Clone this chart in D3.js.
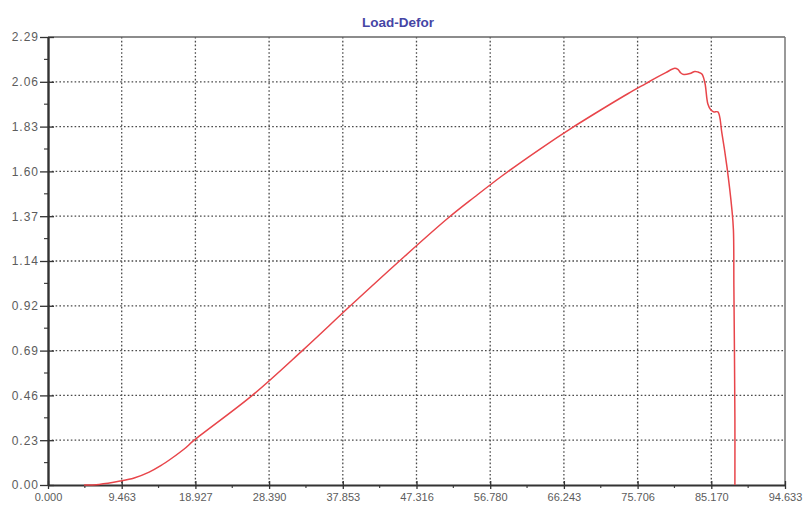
<!DOCTYPE html>
<html>
<head>
<meta charset="utf-8">
<script src="https://cdn.jsdelivr.net/npm/d3@7"></script>
<style>
  html, body { margin: 0; padding: 0; background: #fff; }
  svg { display: block; }
  .tick text { font-family: "Liberation Sans", Arial, sans-serif; fill: #5c5c5c; }
  .x-axis .tick text { font-size: 11px; }
  .y-axis .tick text { font-size: 12px; letter-spacing: 1px; }
</style>
</head>
<body>
<svg id="chart" width="803" height="507"></svg>
<script>
// Load vs. deformation record
const chartTitle = "Load-Defor";

const deformation = [4.63, 6.56, 9.26, 11.06, 12.99, 14.53, 15.94, 17.49, 18.77, 26.23, 32.66, 38.83,
  45.13, 51.30, 54.77, 58.37, 63.13, 67.37, 72.13, 74.45, 76.76, 78.05, 79.33, 80.49, 80.88, 81.26,
  81.65, 82.42, 83.06, 83.45, 83.96, 84.35, 84.73, 85.12, 85.50, 86.02, 86.53, 87.18, 87.82, 88.01,
  88.07, 88.20, 88.20];
const load = [0.000, 0.003, 0.020, 0.036, 0.066, 0.100, 0.138, 0.184, 0.229, 0.458, 0.687, 0.916,
  1.145, 1.362, 1.472, 1.582, 1.716, 1.828, 1.945, 2.000, 2.052, 2.081, 2.108, 2.130, 2.124, 2.106,
  2.098, 2.103, 2.114, 2.111, 2.101, 2.055, 1.948, 1.917, 1.907, 1.907, 1.799, 1.626, 1.406, 1.304,
  1.012, 0.348, 0.000];

const xTickValues = [0, 9.463, 18.927, 28.390, 37.853, 47.316, 56.780, 66.243, 75.706, 85.170, 94.633];
const xTickLabels = ["0.000", "9.463", "18.927", "28.390", "37.853", "47.316", "56.780", "66.243", "75.706", "85.170", "94.633"];
const yTickValues = [0, 0.229, 0.458, 0.687, 0.916, 1.145, 1.374, 1.603, 1.832, 2.061, 2.29];
const yTickLabels = ["0.00", "0.23", "0.46", "0.69", "0.92", "1.14", "1.37", "1.60", "1.83", "2.06", "2.29"];

const plotL = 48, plotR = 785, plotT = 37, plotB = 485;
const svg = d3.select("#chart");

const x = d3.scaleLinear().domain([0, 94.633]).range([plotL, plotR]);
const y = d3.scaleLinear().domain([0, 2.29]).range([plotB, plotT]);

const mids = v => v.slice(1).map((d, i) => (d + v[i]) / 2);

// dotted grid
const grid = svg.append("g").attr("stroke", "#4a4a4a").attr("stroke-width", 1.3)
  .attr("stroke-dasharray", "1.6,2.2");
grid.selectAll(".gx").data(xTickValues.slice(1, -1)).join("line")
  .attr("x1", d => x(d)).attr("x2", d => x(d)).attr("y1", plotT).attr("y2", plotB);
grid.selectAll(".gy").data(yTickValues.slice(1, -1)).join("line")
  .attr("y1", d => y(d)).attr("y2", d => y(d)).attr("x1", plotL).attr("x2", plotR);

// frame: top and right borders
svg.append("line").attr("x1", plotL).attr("x2", plotR).attr("y1", plotT).attr("y2", plotT)
  .attr("stroke", "#666").attr("stroke-width", 1.5);
svg.append("line").attr("x1", plotR).attr("x2", plotR).attr("y1", plotT).attr("y2", plotB)
  .attr("stroke", "#777").attr("stroke-width", 1.5);

// minor ticks
svg.append("g").selectAll("line").data(mids(xTickValues)).join("line")
  .attr("x1", d => x(d)).attr("x2", d => x(d)).attr("y1", plotB).attr("y2", plotB + 3)
  .attr("stroke", "#444").attr("stroke-width", 1.2);
svg.append("g").selectAll("line").data(mids(yTickValues)).join("line")
  .attr("y1", d => y(d)).attr("y2", d => y(d)).attr("x1", plotL - 4).attr("x2", plotL)
  .attr("stroke", "#444").attr("stroke-width", 1.2);

// axes
const xAxis = svg.append("g").attr("class", "x-axis").attr("transform", `translate(0,${plotB})`)
  .call(d3.axisBottom(x).tickValues(xTickValues).tickFormat((d, i) => xTickLabels[i])
    .tickSizeInner(4).tickSizeOuter(0).tickPadding(4));
xAxis.select(".domain").attr("stroke", "#333").attr("stroke-width", 2.2);
xAxis.selectAll(".tick line").attr("stroke", "#333").attr("stroke-width", 1.3).attr("y1", -4);

const yAxis = svg.append("g").attr("class", "y-axis").attr("transform", `translate(${plotL},0)`)
  .call(d3.axisLeft(y).tickValues(yTickValues).tickFormat((d, i) => yTickLabels[i])
    .tickSizeInner(8).tickSizeOuter(0).tickPadding(1));
yAxis.select(".domain").attr("stroke", "#333").attr("stroke-width", 2.4);
yAxis.selectAll(".tick line").attr("stroke", "#333").attr("stroke-width", 1.3).attr("x1", -8).attr("x2", 6);

// load curve
const line = d3.line().curve(d3.curveCatmullRom.alpha(0.5))
  .x((d, i) => x(deformation[i])).y(d => y(d));
svg.append("path").datum(load).attr("d", line)
  .attr("fill", "none").attr("stroke", "#e8454a").attr("stroke-width", 1.5)
  .attr("stroke-linejoin", "round");

// title
svg.append("text").attr("x", 398).attr("y", 27).attr("text-anchor", "middle")
  .attr("font-family", "Liberation Sans, Arial, sans-serif").attr("font-size", 13.5)
  .attr("font-weight", "bold").attr("fill", "#4545a5").text(chartTitle);
</script>
</body>
</html>
